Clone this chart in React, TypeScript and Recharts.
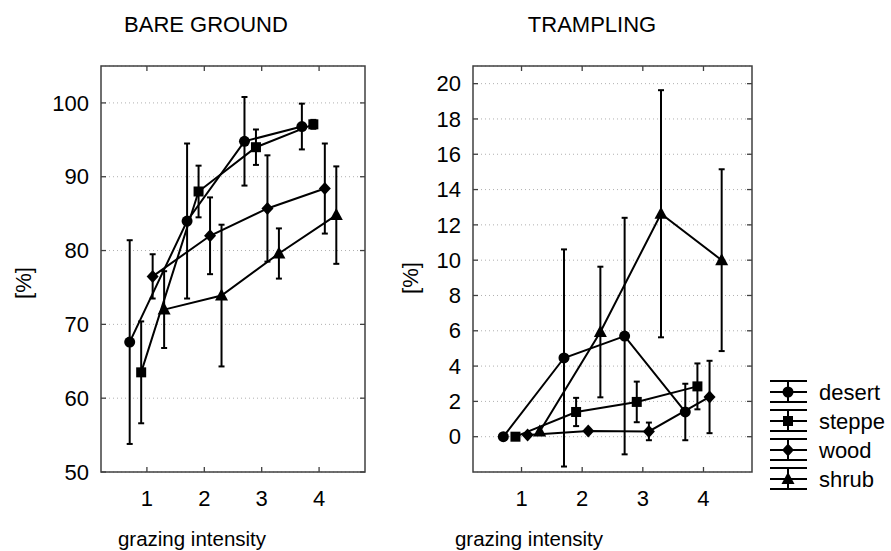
import React from 'react';
import { ComposedChart, Scatter, XAxis, YAxis, CartesianGrid, ErrorBar, ReferenceArea } from 'recharts';

// grazing intensity classes and the four habitats
const INTENSITY = [1, 2, 3, 4];
const HABITATS = ['desert', 'steppe', 'wood', 'shrub'];

// BARE GROUND [%], means and error half-widths
const bareDesert = [67.6, 84.0, 94.8, 96.8];
const bareDesertErr = [13.8, 10.5, 6.0, 3.1];
const bareSteppe = [63.5, 88.0, 94.0, 97.1];
const bareSteppeErr = [6.9, 3.5, 2.4, 0.6];
const bareWood = [76.5, 82.0, 85.7, 88.4];
const bareWoodErr = [3.0, 5.2, 7.2, 6.1];
const bareShrub = [72.0, 73.9, 79.6, 84.8];
const bareShrubErr = [5.2, 9.6, 3.4, 6.6];

// TRAMPLING [%]
const trampDesert = [0, 4.46, 5.7, 1.4];
const trampDesertErr = [0, 6.15, 6.7, 1.6];
const trampSteppe = [0, 1.4, 1.97, 2.85];
const trampSteppeErr = [0, 0.8, 1.15, 1.3];
const trampWood = [0.1, 0.32, 0.3, 2.25];
const trampWoodErr = [0, 0, 0.5, 2.05];
const trampShrub = [0.3, 5.93, 12.63, 10.0];
const trampShrubErr = [0, 3.7, 7.0, 5.15];

const bareTicks = [50, 60, 70, 80, 90, 100];
const trampTicks = [0, 2, 4, 6, 8, 10, 12, 14, 16, 18, 20];

// each habitat is nudged sideways so the error bars don't overlap
const DODGE = [-0.3, -0.1, 0.1, 0.3];
const FONT = '"Liberation Sans", Arial, sans-serif';
const AXIS = '#404040';

const build = (means: number[][], errs: number[][]) =>
  HABITATS.map((name, i) => ({
    name,
    points: INTENSITY.map((g, j) => ({ x: g + DODGE[i], y: means[i][j], err: errs[i][j] })),
  }));

const bareSeries = build(
  [bareDesert, bareSteppe, bareWood, bareShrub],
  [bareDesertErr, bareSteppeErr, bareWoodErr, bareShrubErr]
);
const trampSeries = build(
  [trampDesert, trampSteppe, trampWood, trampShrub],
  [trampDesertErr, trampSteppeErr, trampWoodErr, trampShrubErr]
);

function Marker({ cx, cy, kind }: { cx: number; cy: number; kind: string }) {
  if (cx == null || cy == null) return null;
  switch (kind) {
    case 'desert':
      return <circle cx={cx} cy={cy} r={5.5} fill="#000" />;
    case 'steppe':
      return <rect x={cx - 5} y={cy - 5} width={10} height={10} fill="#000" />;
    case 'wood':
      return <polygon points={`${cx},${cy - 6.5} ${cx + 6},${cy} ${cx},${cy + 6.5} ${cx - 6},${cy}`} fill="#000" />;
    default:
      return <polygon points={`${cx},${cy - 7} ${cx + 6.5},${cy + 5} ${cx - 6.5},${cy + 5}`} fill="#000" />;
  }
}

type PanelProps = {
  series: { name: string; points: { x: number; y: number; err: number }[] }[];
  yDomain: [number, number];
  yTicks: number[];
  width: number;
  left: number;
  yAxisWidth: number;
  right: number;
};

const TOP = 66;
const BOTTOM = 472;
const HEIGHT = 551;

function Panel({ series, yDomain, yTicks, width, left, yAxisWidth, right }: PanelProps) {
  const L = yAxisWidth;
  const R = width - right;

  const xTick = (p: any) => (
    <g>
      <line x1={p.x} y1={BOTTOM} x2={p.x} y2={BOTTOM - 5} stroke={AXIS} strokeWidth={1.3} />
      <line x1={p.x} y1={TOP} x2={p.x} y2={TOP + 5} stroke={AXIS} strokeWidth={1.3} />
      <text x={p.x} y={BOTTOM + 26} dy="0.35em" textAnchor="middle" fontSize={22} fontFamily={FONT} fill="#000">
        {p.payload.value}
      </text>
    </g>
  );
  const yTick = (p: any) => (
    <g>
      <line x1={L} y1={p.y} x2={L + 5} y2={p.y} stroke={AXIS} strokeWidth={1.3} />
      <line x1={R} y1={p.y} x2={R - 5} y2={p.y} stroke={AXIS} strokeWidth={1.3} />
      <text x={L - 12} y={p.y} dy="0.35em" textAnchor="end" fontSize={22} fontFamily={FONT} fill="#000">
        {p.payload.value}
      </text>
    </g>
  );

  return (
    <div style={{ position: 'absolute', left, top: 0 }}>
      <ComposedChart width={width} height={HEIGHT} margin={{ top: TOP, right, bottom: 0, left: 0 }}>
        <CartesianGrid vertical={false} stroke="#b0b0b0" strokeDasharray="1 3" />
        <XAxis
          dataKey="x"
          type="number"
          domain={[0.2, 4.8]}
          ticks={INTENSITY}
          interval={0}
          allowDataOverflow
          height={HEIGHT - BOTTOM}
          axisLine={false}
          tickLine={false}
          tick={xTick}
        />
        <YAxis
          dataKey="y"
          type="number"
          domain={yDomain}
          ticks={yTicks}
          interval={0}
          allowDataOverflow
          width={yAxisWidth}
          axisLine={false}
          tickLine={false}
          tick={yTick}
        />
        <ReferenceArea
          x1={0.2}
          x2={4.8}
          y1={yDomain[0]}
          y2={yDomain[1]}
          fill="none"
          stroke={AXIS}
          strokeWidth={1.5}
          ifOverflow="visible"
        />
        {series.map((s) => (
          <Scatter
            key={s.name}
            name={s.name}
            data={s.points}
            line={{ stroke: '#000', strokeWidth: 2 }}
            lineJointType="linear"
            isAnimationActive={false}
            shape={(p: any) => <Marker cx={p.cx} cy={p.cy} kind={s.name} />}
          >
            <ErrorBar dataKey="err" direction="y" width={3} stroke="#000" strokeWidth={2} />
          </Scatter>
        ))}
      </ComposedChart>
    </div>
  );
}

function LegendBox() {
  const x0 = 770;
  const x1 = 807;
  const xm = 788;
  const firstY = 392;
  const step = 29;
  return (
    <g>
      {HABITATS.map((name, i) => {
        const cy = firstY + i * step;
        return (
          <g key={name}>
            <line x1={xm} y1={cy - 11} x2={xm} y2={cy + 10} stroke="#000" strokeWidth={2} />
            <line x1={x0} y1={cy - 11} x2={x1} y2={cy - 11} stroke="#000" strokeWidth={2} />
            <line x1={x0} y1={cy} x2={x1} y2={cy} stroke="#000" strokeWidth={2} />
            <line x1={x0} y1={cy + 10} x2={x1} y2={cy + 10} stroke="#000" strokeWidth={2} />
            <Marker cx={xm} cy={cy} kind={name} />
            <text x={819} y={cy} dy="0.35em" fontSize={22} fontFamily={FONT} fill="#000">
              {name}
            </text>
          </g>
        );
      })}
    </g>
  );
}

export default function App() {
  return (
    <div style={{ position: 'absolute', left: 0, top: 0, width: 891, height: HEIGHT, background: '#fff' }}>
      <Panel series={bareSeries} yDomain={[50, 105]} yTicks={bareTicks} width={420} left={0} yAxisWidth={101} right={55} />
      <Panel series={trampSeries} yDomain={[-2, 21]} yTicks={trampTicks} width={471} left={420} yAxisWidth={53} right={139} />
      <svg width={891} height={HEIGHT} style={{ position: 'absolute', left: 0, top: 0, pointerEvents: 'none' }}>
        <g fontFamily={FONT} fill="#000">
          <text x={206} y={32} textAnchor="middle" fontSize={22}>BARE GROUND</text>
          <text x={592} y={32} textAnchor="middle" fontSize={22}>TRAMPLING</text>
          <text x={192} y={546} textAnchor="middle" fontSize={20.5}>grazing intensity</text>
          <text x={529} y={546} textAnchor="middle" fontSize={20.5}>grazing intensity</text>
          <text transform="translate(23,283) rotate(-90)" dy="0.35em" textAnchor="middle" fontSize={22}>[%]</text>
          <text transform="translate(410,278) rotate(-90)" dy="0.35em" textAnchor="middle" fontSize={22}>[%]</text>
        </g>
        <LegendBox />
      </svg>
    </div>
  );
}
